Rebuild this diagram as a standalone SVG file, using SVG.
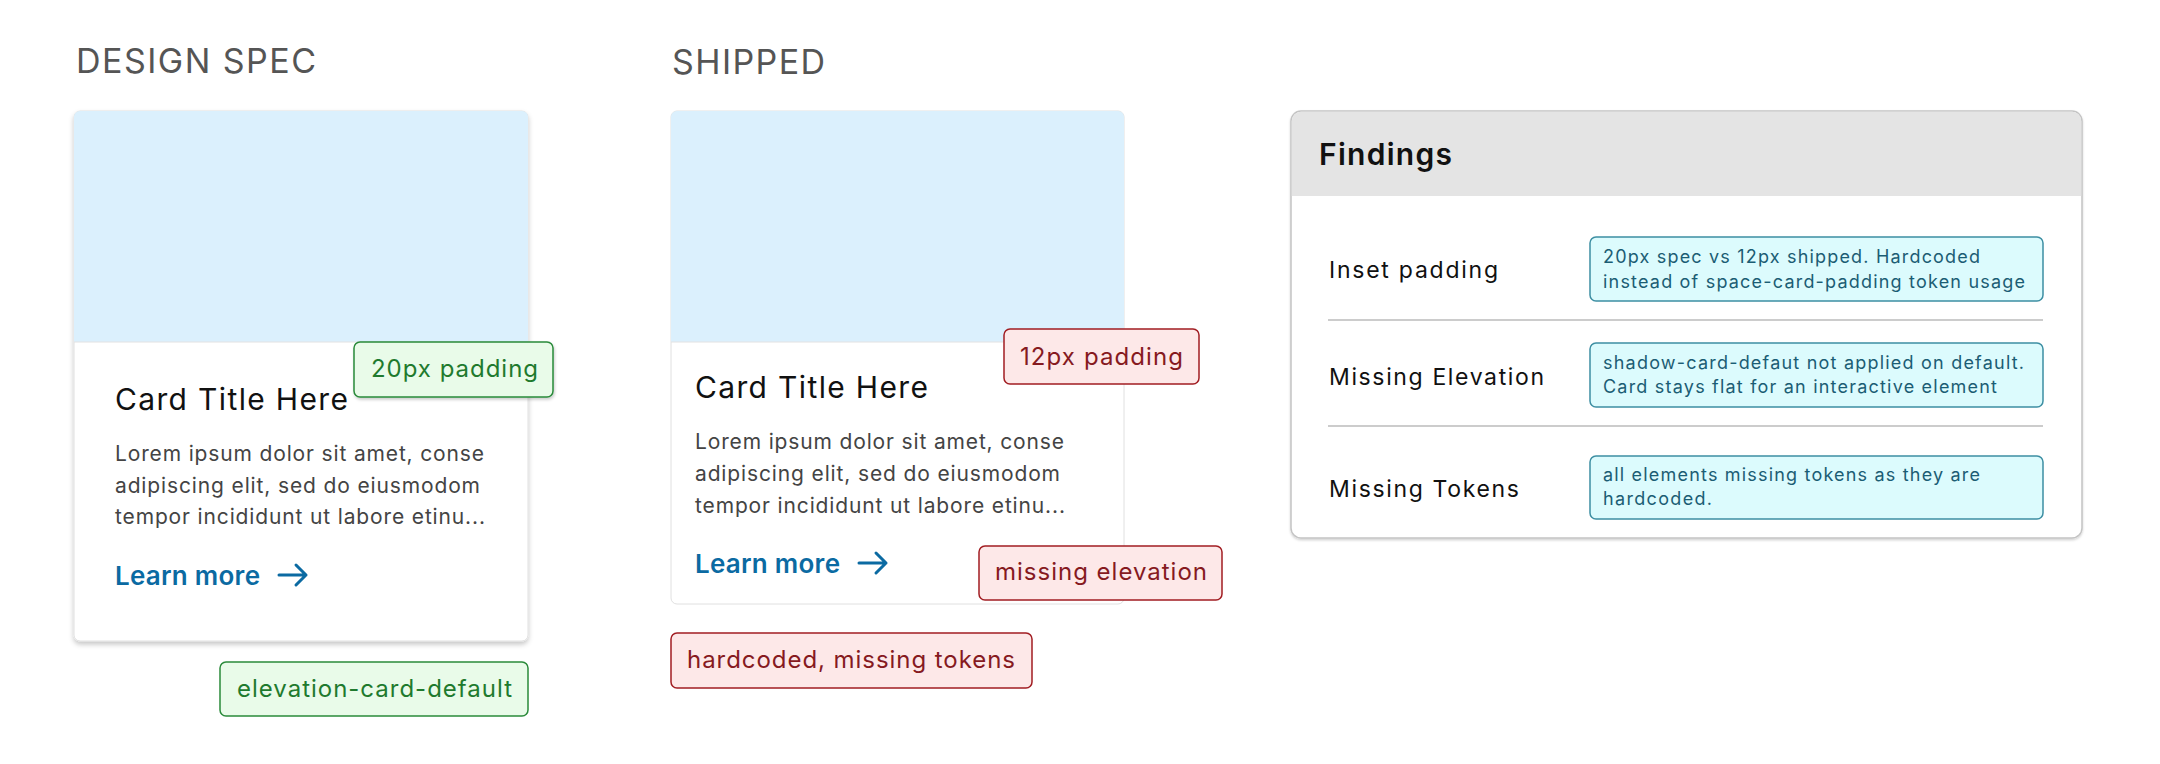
<svg xmlns="http://www.w3.org/2000/svg" width="2160" height="764" viewBox="0 0 2160 764">
<defs>
  <filter id="cardShadow" x="-5%" y="-5%" width="110%" height="112%">
    <feDropShadow dx="0" dy="3" stdDeviation="2.5" flood-color="#000" flood-opacity="0.22"/>
  </filter>
  <filter id="badgeShadow" x="-10%" y="-20%" width="120%" height="150%">
    <feDropShadow dx="1" dy="2" stdDeviation="1.5" flood-color="#000" flood-opacity="0.2"/>
  </filter>
  <filter id="panelShadow" x="-3%" y="-3%" width="106%" height="108%">
    <feDropShadow dx="0" dy="1.5" stdDeviation="1" flood-color="#000" flood-opacity="0.18"/>
  </filter>
</defs>
<style>
  text { font-family: Inter, "Noto Sans", "Liberation Sans", sans-serif; }
  .hdr { font-size: 34px; fill: #555555; }
  .card { fill: #ffffff; stroke: #e0e0e0; stroke-width: 1; }
  .img { fill: #dbf0fd; }
  .title { font-size: 30px; fill: #111111; }
  .body { font-size: 21px; fill: #444444; }
  .link { font-size: 26px; font-weight: 600; fill: #0b6aa2; }
  .arrow { fill: none; stroke: #0b6aa2; stroke-width: 3; stroke-linecap: round; stroke-linejoin: round; }
  .gbadge { fill: #e9fbe9; stroke: #2a8a3a; stroke-width: 1.5; }
  .gtext { font-size: 24px; fill: #1f7a2e; }
  .rbadge { fill: #fde8e8; stroke: #a11d22; stroke-width: 1.5; }
  .rtext { font-size: 24px; fill: #861a1f; }
  .panel { fill: #ffffff; stroke: #c4c4c4; stroke-width: 1.5; }
  .phead { fill: #e4e4e4; }
  .ptitle { font-size: 30px; font-weight: 600; fill: #111111; }
  .rowlbl { font-size: 23px; fill: #111111; }
  .divider { stroke: #cccccc; stroke-width: 2; }
  .info { fill: #dcfbfd; stroke: #3d8fa3; stroke-width: 1.5; }
  .infotext { font-size: 18px; fill: #1b5d74; }
</style>

<g id="design-spec-header">
  <text class="hdr" x="76" y="73" textLength="240" lengthAdjust="spacing">DESIGN SPEC</text>
</g>

<g id="design-card">
  <rect class="card" x="74" y="111" width="454" height="530" rx="6" filter="url(#cardShadow)"/>
  <path class="img" d="M80,111 H522 A6,6 0 0 1 528,117 V342 H74 V117 A6,6 0 0 1 80,111 Z"/>
  <line x1="74" y1="342" x2="528" y2="342" stroke="#e2e2e2" stroke-width="1"/>
  <text class="title" x="115" y="410" textLength="233" lengthAdjust="spacing">Card Title Here</text>
  <text class="body" x="115" y="461" textLength="369" lengthAdjust="spacing">Lorem ipsum dolor sit amet, conse</text>
  <text class="body" x="115" y="492.5" textLength="365" lengthAdjust="spacing">adipiscing elit, sed do eiusmodom</text>
  <text class="body" x="115" y="524" textLength="370" lengthAdjust="spacing">tempor incididunt ut labore etinu...</text>
  <text class="link" x="115" y="585" textLength="145" lengthAdjust="spacing">Learn more</text>
  <path class="arrow" d="M279,575 H306 M296,565 L306,575 L296,585"/>
</g>

<g id="badge-20px">
  <rect class="gbadge" x="354" y="342" width="199" height="55" rx="6" filter="url(#badgeShadow)"/>
  <text class="gtext" x="371" y="377" textLength="167" lengthAdjust="spacing">20px padding</text>
</g>

<g id="badge-elevation-default">
  <rect class="gbadge" x="220" y="662" width="308" height="54" rx="6"/>
  <text class="gtext" x="237" y="697" textLength="275" lengthAdjust="spacing">elevation-card-default</text>
</g>

<g id="shipped-header">
  <text class="hdr" x="672" y="74" textLength="153" lengthAdjust="spacing">SHIPPED</text>
</g>

<g id="shipped-card">
  <rect class="card" x="671" y="111" width="453" height="493" rx="6"/>
  <path class="img" d="M677,111 H1118 A6,6 0 0 1 1124,117 V342 H671 V117 A6,6 0 0 1 677,111 Z"/>
  <line x1="671" y1="342" x2="1124" y2="342" stroke="#e2e2e2" stroke-width="1"/>
  <text class="title" x="695" y="398" textLength="233" lengthAdjust="spacing">Card Title Here</text>
  <text class="body" x="695" y="449" textLength="369" lengthAdjust="spacing">Lorem ipsum dolor sit amet, conse</text>
  <text class="body" x="695" y="481" textLength="365" lengthAdjust="spacing">adipiscing elit, sed do eiusmodom</text>
  <text class="body" x="695" y="512.5" textLength="370" lengthAdjust="spacing">tempor incididunt ut labore etinu...</text>
  <text class="link" x="695" y="573" textLength="145" lengthAdjust="spacing">Learn more</text>
  <path class="arrow" d="M859,563 H886 M876,553 L886,563 L876,573"/>
</g>

<g id="badge-12px">
  <rect class="rbadge" x="1004" y="329" width="195" height="55" rx="6"/>
  <text class="rtext" x="1020" y="365" textLength="163" lengthAdjust="spacing">12px padding</text>
</g>

<g id="badge-missing-elevation">
  <rect class="rbadge" x="979" y="546" width="243" height="54" rx="6"/>
  <text class="rtext" x="995" y="580" textLength="212" lengthAdjust="spacing">missing elevation</text>
</g>

<g id="badge-hardcoded">
  <rect class="rbadge" x="671" y="633" width="361" height="55" rx="6"/>
  <text class="rtext" x="687" y="668" textLength="328" lengthAdjust="spacing">hardcoded, missing tokens</text>
</g>

<g id="findings-panel">
  <rect class="panel" x="1291" y="111" width="791" height="427" rx="10" filter="url(#panelShadow)"/>
  <path class="phead" d="M1301,111.75 H2071 A9.25,9.25 0 0 1 2081.25,121 V196 H1291.75 V121 A9.25,9.25 0 0 1 1301,111.75 Z"/>
  <text class="ptitle" x="1319" y="165" textLength="133" lengthAdjust="spacing">Findings</text>

  <g id="row-inset-padding">
    <text class="rowlbl" x="1329" y="278" textLength="169" lengthAdjust="spacing">Inset padding</text>
    <rect class="info" x="1590" y="237" width="453" height="64" rx="6"/>
    <text class="infotext" x="1603" y="263" textLength="377" lengthAdjust="spacing">20px spec vs 12px shipped. Hardcoded</text>
    <text class="infotext" x="1603" y="288" textLength="422" lengthAdjust="spacing">instead of space-card-padding token usage</text>
  </g>
  <line class="divider" x1="1328" y1="320" x2="2043" y2="320"/>

  <g id="row-missing-elevation">
    <text class="rowlbl" x="1329" y="385" textLength="215" lengthAdjust="spacing">Missing Elevation</text>
    <rect class="info" x="1590" y="343" width="453" height="64" rx="6"/>
    <text class="infotext" x="1603" y="369" textLength="421" lengthAdjust="spacing">shadow-card-defaut not applied on default.</text>
    <text class="infotext" x="1603" y="393" textLength="394" lengthAdjust="spacing">Card stays flat for an interactive element</text>
  </g>
  <line class="divider" x1="1328" y1="426" x2="2043" y2="426"/>

  <g id="row-missing-tokens">
    <text class="rowlbl" x="1329" y="497" textLength="190" lengthAdjust="spacing">Missing Tokens</text>
    <rect class="info" x="1590" y="456" width="453" height="63" rx="6"/>
    <text class="infotext" x="1603" y="481" textLength="377" lengthAdjust="spacing">all elements missing tokens as they are</text>
    <text class="infotext" x="1603" y="505" textLength="109" lengthAdjust="spacing">hardcoded.</text>
  </g>
</g>

<g id="connectors"></g>
</svg>
